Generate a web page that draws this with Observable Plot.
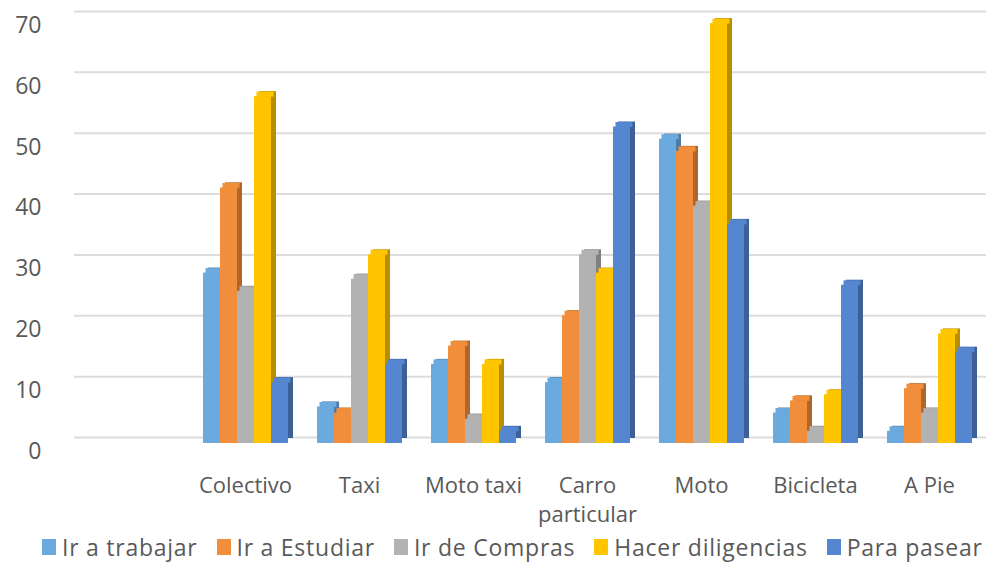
<!DOCTYPE html>
<html>
<head>
<meta charset="utf-8">
<script src="https://cdn.jsdelivr.net/npm/d3@7"></script>
<script src="https://cdn.jsdelivr.net/npm/@observablehq/plot@0.6"></script>
<style>
  html, body { margin: 0; padding: 0; background: #fff; }
  #chart { width: 1000px; height: 564px; overflow: hidden; font-family: "Open Sans", sans-serif; }
  .leg-swatches { padding-left: 42px; margin: 0; min-height: 38px; letter-spacing: 0.75px; flex-wrap: nowrap !important; white-space: nowrap; }
  .leg-swatch { margin-right: 19px; flex-shrink: 0; }
  .leg-swatch:last-child { margin-right: 0; }
  .leg-swatch > svg { margin-right: 6px; }
</style>
</head>
<body>
<div id="chart"></div>
<script>
// ---- data ----
const categories = ["", "Colectivo", "Taxi", "Moto taxi", "Carro particular", "Moto", "Bicicleta", "A Pie"];
const categoryLabels = ["", "Colectivo", "Taxi", "Moto taxi", "Carro\nparticular", "Moto", "Bicicleta", "A Pie"];
const series = ["Ir a trabajar", "Ir a Estudiar", "Ir de Compras", "Hacer diligencias", "Para pasear"];
const irATrabajar      = [28, 6, 13, 10, 50, 5, 2];
const irAEstudiar      = [42, 5, 16, 21, 48, 7, 9];
const irDeCompras      = [25, 27, 4, 31, 39, 2, 5];
const hacerDiligencias = [57, 31, 13, 28, 69, 8, 18];
const paraPasear       = [10, 13, 2, 52, 36, 26, 15];
const yTicks = [0, 10, 20, 30, 40, 50, 60, 70];
const colors = ["#6aaade", "#f18e3c", "#b2b2b2", "#ffc600", "#5586d0"];

// ---- table built from the arrays ----
const seriesValues = [irATrabajar, irAEstudiar, irDeCompras, hacerDiligencias, paraPasear];
const modes = categories.slice(1);
const table = modes.flatMap((m, i) => series.map((s, j) => ({mode: m, series: s, value: seriesValues[j][i]})));

const common = {fx: "mode", x: "series", y: "value"};

const plot = Plot.plot({
  width: 1000,
  height: 528,
  marginLeft: 72,
  marginRight: 12,
  marginTop: 17,
  marginBottom: 85,
  fx: {domain: categories, paddingInner: 0, paddingOuter: 0, axis: null, label: null},
  x: {domain: series, paddingInner: 0, paddingOuter: 0.75, axis: null},
  y: {domain: [0, 70], axis: null},
  color: {domain: series, range: colors},
  style: {fontFamily: "Open Sans", background: "#fff", overflow: "visible"},
  marks: [
    Plot.ruleY(yTicks, {stroke: "#dcdcdc", strokeWidth: 2, dy: -6}),
    // side (depth) faces
    Plot.barY(table, {...common, fill: "series", dx: 5, dy: -5}),
    Plot.barY(table, {...common, fill: "#000", fillOpacity: 0.28, dx: 5, dy: -5}),
    // top faces
    Plot.tickY(table, {...common, stroke: "series", strokeWidth: 5, dx: 2.5, dy: -2.5}),
    // front faces
    Plot.barY(table, {...common, fill: "series"}),
    Plot.axisY(yTicks, {tickSize: 0, tickPadding: 33, dy: 8, fontSize: 23, fill: "#595959", label: null}),
    Plot.text(categories, {fx: d => d, text: (d, i) => categoryLabels[i], frameAnchor: "bottom",
      lineAnchor: "top", dy: 29, lineHeight: 1.32, fontSize: 22, fill: "#595959"})
  ]
});

const legend = Plot.legend({
  color: {domain: series, range: colors},
  legend: "swatches",
  swatchWidth: 14,
  swatchHeight: 16,
  className: "leg",
  style: {fontFamily: "Open Sans", fontSize: "23px", color: "#595959"}
});

const chart = document.getElementById("chart");
chart.appendChild(plot);
chart.appendChild(legend);
</script>
</body>
</html>
